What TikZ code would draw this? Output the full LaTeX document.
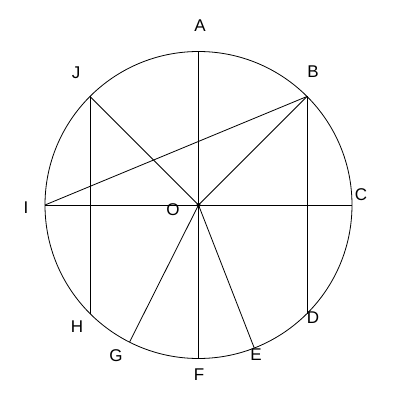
\documentclass[tikz,border=0pt]{standalone}
\usepackage{fontspec}
\setmainfont{Liberation Sans}
\usepackage{tikz}
\usetikzlibrary{calc}

\begin{document}
\begin{tikzpicture}[x=1pt, y=1pt, line width=0.8pt,
    lbl/.style={font=\fontsize{17}{17}\selectfont, inner sep=0pt}]
    \useasboundingbox (0,0) rectangle (400,400);

    % Circle and centre
    \coordinate (O) at (198.5,195);
    \draw (O) circle (153.5);
    \fill (O) circle (2);

    % Points on the circle
    \foreach \name/\ang in {A/90, B/45, C/0, D/-45, E/-68.7, F/-90, G/-116.7, H/-135, I/180, J/135} {
      \coordinate (\name) at ($(O)+(\ang:153.5)$);
    }

    % Chords and radii
    \draw (A) -- (F);
    \draw (I) -- (C);
    \draw (I) -- (B);
    \draw (B) -- (O);
    \draw (J) -- (O);
    \draw (J) -- (H);
    \draw (B) -- (D);
    \draw (O) -- (G);
    \draw (O) -- (E);

    % Labels
    \node[lbl] (lA) at (200,374) {A};
    \node[lbl] (lB) at (313,328) {B};
    \node[lbl] (lC) at (361,205) {C};
    \node[lbl] (lD) at (313,82) {D};
    \node[lbl] (lE) at (256,45) {E};
    \node[lbl] (lF) at (199,25) {F};
    \node[lbl] (lG) at (116,44) {G};
    \node[lbl] (lH) at (77,73) {H};
    \node[lbl] (lI) at (26,192) {I};
    \node[lbl] (lJ) at (76,327) {J};
    \node[lbl] (lO) at (173,190) {O};
\end{tikzpicture}
\end{document}
